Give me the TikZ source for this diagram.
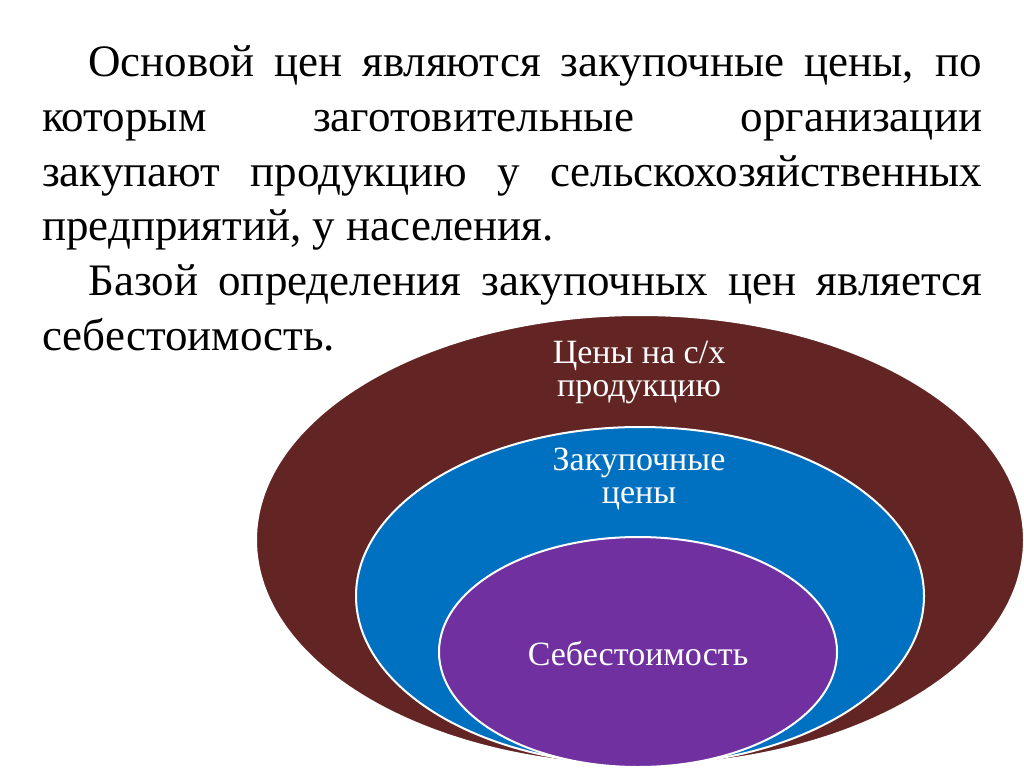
\documentclass[tikz,border=0pt]{standalone}
\usepackage{fontspec}
\setmainfont{Liberation Serif}
\usepackage{xcolor}
\usetikzlibrary{shapes.geometric}
\definecolor{brunfonce}{HTML}{632523}
\definecolor{bleucuve}{HTML}{0070C0}
\definecolor{violet}{HTML}{7030A0}
\tikzset{
    anneau/.style={ellipse, draw=white, line width=2pt, inner sep=0pt},
    etiq/.style={text=white, align=center, inner sep=0pt, font=\fontsize{34}{33}\selectfont},
}

\begin{document}
\begin{tikzpicture}[x=1pt,y=-1pt]
    % fond blanc
    \fill[white] (0,0) rectangle (1024,768);
    \useasboundingbox (0,0) rectangle (1024,768);
    \node[anchor=base west, inner sep=0pt, text width=940pt, align=justify,
          font=\fontsize{45}{54.6}\selectfont] (texte) at (42,77)
        {\hspace*{46pt}Основой цен являются закупочные цены, по\linebreak
         которым заготовительные организации\linebreak
         закупают продукцию у сельскохозяйственных\linebreak
         предприятий, у населения.\par
         \hspace*{46pt}Базой определения закупочных цен является\linebreak
         себестоимость.};
\begin{scope}
    \node[anneau, fill=brunfonce, minimum width=768pt, minimum height=450pt] (prix) at (640,540) {};
    \node[anneau, fill=bleucuve, minimum width=568pt, minimum height=338pt] (achat) at (640,596) {};
    \node[anneau, fill=violet, minimum width=398pt, minimum height=230pt] (cout) at (638,652) {};
\end{scope}
    \node[etiq, anchor=base] (lprix) at (639,396) {Цены на с/х\\продукцию};
    \node[etiq, anchor=base] (lachat) at (639,503) {Закупочные\\цены};
    \node[etiq, anchor=base] (lcout) at (638,665) {Себестоимость};
\end{tikzpicture}
\end{document}
